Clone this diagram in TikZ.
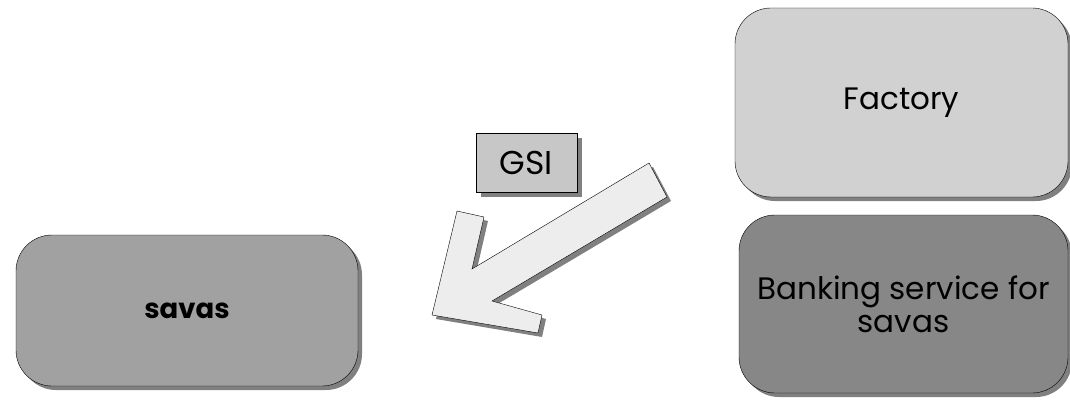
\documentclass[tikz,border=0pt]{standalone}
\usepackage{fontspec}
\setmainfont{Poppins}
\usetikzlibrary{positioning}
\usetikzlibrary{shadows}

\begin{document}
\begin{tikzpicture}[x=1pt,y=-1pt]

\tikzset{
    box/.style={rounded corners=36pt,draw,thin,font=\fontsize{31}{33}\selectfont,align=center,
        drop shadow={shadow xshift=4pt,shadow yshift=-4pt,fill=black!50,opacity=1}},
    tag/.style={draw,thin,fill=black!22,font=\fontsize{33}{36}\selectfont,
        drop shadow={shadow xshift=5pt,shadow yshift=-5pt,fill=black!50,opacity=1}},
    blockarrow/.style={draw,thin,fill=black!7,line join=miter,
        drop shadow={shadow xshift=4pt,shadow yshift=-4pt,fill=black!50,opacity=1}}
}
% frame
\useasboundingbox (0,0) rectangle (1070,406);

% nodes
\node[box,fill=black!37,minimum width=342pt,minimum height=151pt,font=\fontsize{27.5}{30}\selectfont\bfseries] (savas) at (187,310.5) {savas};
\node[box,fill=black!18,minimum width=333pt,minimum height=189pt] (fact) at (901.5,102.5) {Factory};
\node[box,fill=black!47,minimum width=329pt,minimum height=178pt] (bank) at (903.5,304) {Banking service for\\savas};
\node[tag,minimum width=101pt,minimum height=59pt] (gsi) at (526.5,162.5) {GSI};

% block arrow
\draw[blockarrow] (649,163) -- (472,269) -- (484,217) -- (457,211) -- (432,315)
    -- (538,333) -- (542,315) -- (492,301) -- (667,197) -- cycle;

\end{tikzpicture}
\end{document}
